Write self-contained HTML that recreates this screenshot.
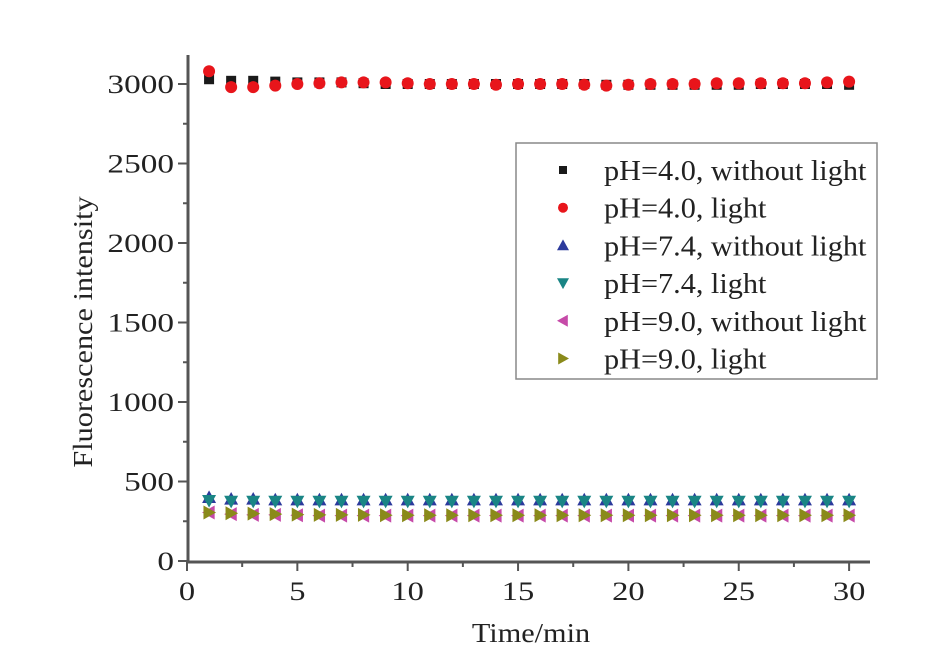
<!DOCTYPE html>
<html><head><meta charset="utf-8"><style>
body{margin:0;background:#fff}
svg{display:block}
text{font-family:"Liberation Serif",serif;fill:#222}
</style></head><body>
<svg id="chart" width="927" height="672">
<g id="axes"></g><g id="marks"></g><g id="legend"></g>
</svg>
<script>
const times=[1,2,3,4,5,6,7,8,9,10,11,12,13,14,15,16,17,18,19,20,21,22,23,24,25,26,27,28,29,30];
const pH4Dark=[3030,3020,3020,3015,3010,3010,3010,3005,3000,3000,3000,3000,3000,3000,3000,3000,3000,3000,2995,2995,2995,2995,2995,2995,2995,3000,3000,3000,3000,2995];
const pH4Light=[3080,2980,2980,2990,3000,3005,3010,3010,3010,3005,3000,3000,3000,2995,3000,3000,3000,2995,2990,2995,3000,3000,3000,3005,3005,3005,3005,3005,3010,3015];
const pH74Dark=[400,390,390,385,385,385,385,385,385,385,385,385,385,385,385,385,385,385,385,385,385,385,385,385,385,385,385,385,385,385];
const pH74Light=[380,375,375,375,375,375,375,375,375,375,375,375,375,375,375,375,375,375,375,375,375,375,375,375,375,375,375,375,375,375];
const pH9Dark=[305,295,290,290,288,285,285,285,285,285,285,285,285,285,285,285,285,285,285,285,285,285,285,285,285,285,285,285,285,285];
const pH9Light=[305,300,298,295,292,290,290,290,288,288,288,288,288,288,288,288,288,288,288,288,288,288,288,288,288,288,288,288,288,288];
const xTicks=[0,5,10,15,20,25,30];
const yTicks=[0,500,1000,1500,2000,2500,3000];
const seriesNames=["pH=4.0, without light","pH=4.0, light","pH=7.4, without light","pH=7.4, light","pH=9.0, without light","pH=9.0, light"];
const seriesData=[pH4Dark,pH4Light,pH74Dark,pH74Light,pH9Dark,pH9Light];
const colors=["#1a1a1a","#e8151b","#2c3a9c","#1a8585","#c64aa8","#8a8a1a"];
const shapes=["square","circle","up","down","left","right"];

const X=v=>187+v*22.07, Y=v=>561-v*0.159;
const NS="http://www.w3.org/2000/svg";
function mk(tag,attrs,parent){const e=document.createElementNS(NS,tag);for(const k in attrs)e.setAttribute(k,attrs[k]);parent.appendChild(e);return e;}
function stretch(e,f){const w=e.getComputedTextLength();e.setAttribute('textLength',w*f);e.setAttribute('lengthAdjust','spacingAndGlyphs');}
const axes=document.getElementById('axes'),marks=document.getElementById('marks'),leg=document.getElementById('legend');

let a=mk('line',{x1:188,y1:55,x2:188,y2:563,stroke:'#555','stroke-width':3},axes);

a=mk('line',{x1:187,y1:562,x2:870,y2:562,stroke:'#555','stroke-width':3},axes);

xTicks.forEach((v,i)=>{
  mk('line',{x1:X(v),y1:562,x2:X(v),y2:571,stroke:'#555','stroke-width':2},axes);
  if(i<xTicks.length-1)mk('line',{x1:X(v+2.5),y1:562,x2:X(v+2.5),y2:567,stroke:'#555','stroke-width':2},axes);
  const t=mk('text',{x:X(v),y:600,'text-anchor':'middle','font-size':26},axes);t.textContent=v;
  
  stretch(t,1.25);
});
yTicks.forEach((v,i)=>{
  mk('line',{x1:178,y1:Y(v),x2:188,y2:Y(v),stroke:'#555','stroke-width':2},axes);
  if(i<yTicks.length-1)mk('line',{x1:183,y1:Y(v+250),x2:188,y2:Y(v+250),stroke:'#555','stroke-width':2},axes);
  const t=mk('text',{x:174,y:Y(v)+9,'text-anchor':'end','font-size':26},axes);t.textContent=v;
  
  stretch(t,1.28);
});
let t=mk('text',{x:531,y:642,'text-anchor':'middle','font-size':27},axes);t.textContent='Time/min';

stretch(t,1.12);
t=mk('text',{x:0,y:0,'text-anchor':'middle','font-size':27,transform:'translate(92,332) rotate(-90)'},axes);t.textContent='Fluorescence intensity';

stretch(t,1.12);

function marker(shape,x,y,c,s,parent){
  let e;
  if(shape==='square')e=mk('rect',{x:x-s,y:y-s,width:2*s,height:2*s,fill:c},parent);
  else if(shape==='circle')e=mk('circle',{cx:x,cy:y,r:s+1,fill:c},parent);
  else{const r=s+2;let p;
    if(shape==='up')p=[[x,y-r],[x+r,y+r*0.8],[x-r,y+r*0.8]];
    if(shape==='down')p=[[x,y+r],[x+r,y-r*0.8],[x-r,y-r*0.8]];
    if(shape==='left')p=[[x-r,y],[x+r*0.8,y-r],[x+r*0.8,y+r]];
    if(shape==='right')p=[[x+r,y],[x-r*0.8,y-r],[x-r*0.8,y+r]];
    e=mk('polygon',{points:p.map(q=>q.join(',')).join(' '),fill:c},parent);}
  return e;
}
seriesData.forEach((d,si)=>{
  d.forEach((v,i)=>{
    const e=marker(shapes[si],X(times[i]),Y(v),colors[si],5,marks);
    
    
  });
});
let box=mk('rect',{x:516,y:143,width:361,height:236,fill:'#fff',stroke:'#888','stroke-width':1.5},leg);

seriesNames.forEach((n,i)=>{
  const y=170+i*37.7;
  const m=marker(shapes[i],563,y,colors[i],4,leg);
  
  const tx=mk('text',{x:604,y:y+10,'font-size':28},leg);tx.textContent=n;
  
  stretch(tx,1.08);
});
</script>
</body></html>
